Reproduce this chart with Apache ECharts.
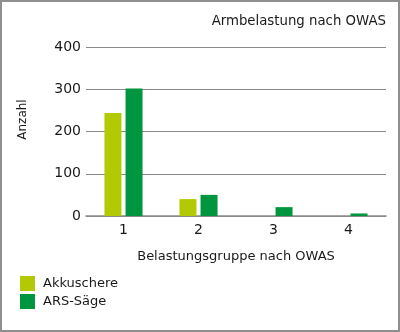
<!DOCTYPE html>
<html>
<head>
<meta charset="utf-8">
<script src="https://cdn.jsdelivr.net/npm/echarts@6/dist/echarts.min.js"></script>
<style>
  html, body { margin: 0; padding: 0; background: #fff; }
  #frame { width: 400px; height: 332px; box-sizing: border-box; border: 2px solid #8f8f8f; position: relative; }
  #chart { position: absolute; left: -2px; top: -2px; width: 400px; height: 332px; }
</style>
</head>
<body>
<div id="frame"><div id="chart"></div></div>
<script>
// Belastungsgruppen (OWAS) und Häufigkeiten je Werkzeug
const categories = ['1', '2', '3', '4'];
const akkuschere = [244, 40, 0, 0];
const arsSaege = [302, 50, 21, 6];
const yTicks = [0, 100, 200, 300, 400];

const font = 'DejaVu Sans';
const chart = echarts.init(document.getElementById('chart'), null, { renderer: 'canvas' });

chart.setOption({
  animation: false,
  title: {
    text: 'Armbelastung nach OWAS',
    right: 9,
    top: 10,
    textStyle: { fontFamily: font, fontSize: 13.3, fontWeight: 'normal', color: '#1a1a1a' }
  },
  legend: {
    orient: 'vertical',
    left: 20,
    top: 276,
    padding: 0,
    itemWidth: 15,
    itemHeight: 15,
    itemGap: 3,
    icon: 'rect',
    textStyle: { fontFamily: font, fontSize: 13, color: '#1a1a1a', padding: [0, 0, 0, 3] },
    data: ['Akkuschere', 'ARS-Säge']
  },
  grid: { left: 86, right: 14, top: 47, bottom: 116 },
  xAxis: {
    type: 'category',
    data: categories,
    name: 'Belastungsgruppe nach OWAS',
    nameLocation: 'middle',
    nameGap: 34,
    nameTextStyle: { fontFamily: font, fontSize: 13, color: '#1a1a1a' },
    axisLine: { lineStyle: { color: '#8a8a8a', width: 1.5 } },
    axisTick: { show: false },
    axisLabel: { fontFamily: font, fontSize: 14, color: '#1a1a1a', margin: 7 }
  },
  yAxis: {
    type: 'value',
    min: yTicks[0],
    max: yTicks[yTicks.length - 1],
    interval: 100,
    name: 'Anzahl',
    nameLocation: 'middle',
    nameGap: 57,
    nameTextStyle: { fontFamily: font, fontSize: 12, color: '#1a1a1a', padding: [0, 0, 0, 24] },
    axisLine: { show: false },
    axisTick: { show: false },
    axisLabel: { fontFamily: font, fontSize: 14, color: '#1a1a1a', margin: 5 },
    splitLine: { lineStyle: { color: '#8a8a8a', width: 1 } }
  },
  series: [
    {
      name: 'Akkuschere',
      type: 'bar',
      data: akkuschere,
      barWidth: 17,
      barGap: '24%',
      itemStyle: { color: '#b2c904' }
    },
    {
      name: 'ARS-Säge',
      type: 'bar',
      data: arsSaege,
      barWidth: 17,
      itemStyle: { color: '#009640' }
    }
  ]
});
</script>
</body>
</html>
